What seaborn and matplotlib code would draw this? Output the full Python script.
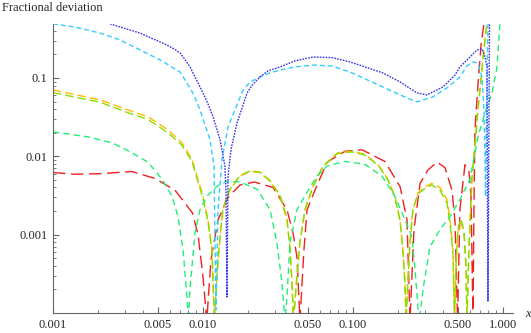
import numpy as np
import pandas as pd
import matplotlib
matplotlib.use("Agg")
import matplotlib.pyplot as plt
import seaborn as sns
from matplotlib.ticker import FixedLocator, NullFormatter

# curves (values below 1e-4 mark the zero crossings)
red_x = [0.001, 0.0014, 0.00206, 0.00336, 0.0048, 0.0065, 0.0085, 0.00927, 0.010, 0.0106,
         0.0113, 0.0126, 0.01468, 0.01766, 0.022, 0.0293, 0.0363, 0.0398, 0.0423, 0.0443,
         0.0471, 0.0494, 0.0558, 0.0671, 0.0885, 0.115, 0.163, 0.206, 0.229, 0.24,
         0.255, 0.28, 0.316, 0.363, 0.41, 0.457, 0.479, 0.498, 0.516, 0.558,
         0.593, 0.612, 0.631, 0.641, 0.65, 0.681, 0.714, 0.747]
red_y = [0.0062, 0.0059, 0.0060, 0.0064, 0.0052, 0.0037, 0.0019, 0.0010, 0.00029, 8e-5,
         0.00048, 0.00155, 0.0030, 0.0043, 0.0047, 0.0040, 0.00208, 0.00106, 0.00052, 8e-5,
         0.00064, 0.00208, 0.0037, 0.0084, 0.0116, 0.0121, 0.0086, 0.0041, 0.00155, 8e-5,
         0.00116, 0.0045, 0.0067, 0.0084, 0.0072, 0.0037, 0.00146, 8e-5, 0.00208, 0.0078,
         0.0064, 0.0031, 8e-5, 0.0028, 0.0217, 0.0814, 0.263, 0.5]

orange_x = [0.001, 0.00206, 0.00316, 0.0043, 0.00584, 0.00724, 0.00845, 0.00912, 0.010, 0.0108,
            0.0115, 0.01167, 0.0119, 0.0124, 0.013, 0.0136, 0.0151, 0.01766, 0.0206, 0.024,
            0.028, 0.0326, 0.0363, 0.038, 0.0392, 0.0401, 0.0423, 0.0443, 0.0479, 0.0541,
            0.063, 0.079, 0.0985, 0.12, 0.147, 0.171, 0.19, 0.206, 0.215, 0.222,
            0.226, 0.233, 0.24, 0.251, 0.271, 0.302, 0.336, 0.38, 0.424, 0.45,
            0.464, 0.475, 0.486, 0.5, 0.525, 0.55, 0.567, 0.575, 0.593, 0.621,
            0.65, 0.681, 0.714, 0.747, 0.782]
orange_y = [0.0703, 0.0525, 0.039, 0.0319, 0.0217, 0.0149, 0.0092, 0.0056, 0.0031, 0.00155,
            0.00064, 0.000245, 8e-5, 0.00029, 0.00094, 0.00208, 0.0037, 0.0056, 0.0064, 0.0062,
            0.0048, 0.0031, 0.00155, 0.00064, 0.000245, 8e-5, 0.00029, 0.00079, 0.00208, 0.0041,
            0.0075, 0.0111, 0.0116, 0.0106, 0.0078, 0.0051, 0.0031, 0.00155, 0.00064, 0.000245,
            8e-5, 0.00029, 0.00079, 0.00208, 0.0034, 0.0041, 0.0045, 0.0040, 0.0028, 0.00125,
            0.00059, 8e-5, 0.00036, 0.00109, 0.00146, 0.0010, 0.00036, 8e-5, 0.00064, 0.0051,
            0.0132, 0.039, 0.094, 0.228, 0.5]
ygreen_y = [0.065, 0.049, 0.036, 0.0295, 0.020, 0.0138, 0.0086, 0.0052, 0.0029, 0.00145,
            0.0006, 0.00023, 8e-5, 0.00031, 0.0010, 0.0022, 0.0038, 0.0057, 0.0065, 0.0063,
            0.0049, 0.0032, 0.0016, 0.00066, 0.00025, 8e-5, 0.0003, 0.00082, 0.0021, 0.0041,
            0.0074, 0.0109, 0.0114, 0.0104, 0.0077, 0.0050, 0.0030, 0.0015, 0.00062, 0.00024,
            8e-5, 0.0003, 0.0008, 0.0021, 0.0033, 0.0039, 0.0043, 0.0037, 0.0025, 0.0011,
            0.00055, 8e-5, 0.0004, 0.0012, 0.0016, 0.0011, 0.0004, 8e-5, 0.0007, 0.0055,
            0.014, 0.041, 0.10, 0.24, 0.5]

green_x = [0.001, 0.00171, 0.00247, 0.00336, 0.0043, 0.00533, 0.00621, 0.00681, 0.00736, 0.00782,
           0.008, 0.00818, 0.00885, 0.00955, 0.01064, 0.0124, 0.01445, 0.01766, 0.0229, 0.028,
           0.0311, 0.0336, 0.0352, 0.0363, 0.038, 0.0423, 0.0494, 0.0575, 0.0671, 0.0885,
           0.12, 0.156, 0.19, 0.222, 0.247, 0.259, 0.271, 0.277, 0.293, 0.326,
           0.38, 0.443, 0.516, 0.603, 0.681, 0.759, 0.845, 0.912, 0.955]
green_y = [0.0205, 0.0177, 0.0149, 0.0111, 0.0084, 0.0051, 0.0031, 0.0017, 0.00064, 0.000162,
           8e-5, 0.0002, 0.00106, 0.00208, 0.0031, 0.00415, 0.0048, 0.0047, 0.0038, 0.00208,
           0.00079, 0.000245, 8e-5, 0.000162, 0.00079, 0.00208, 0.00348, 0.0056, 0.0075, 0.0086,
           0.0079, 0.0056, 0.0031, 0.00155, 0.00094, 0.00036, 0.000121, 8e-5, 0.0002, 0.0007,
           0.00116, 0.0017, 0.0028, 0.0051, 0.0177, 0.0358, 0.0644, 0.138, 0.5]

cyan_x = [0.001, 0.0014, 0.00206, 0.0028, 0.0038, 0.00517, 0.00703, 0.00782, 0.0087, 0.00955,
          0.0103, 0.01114, 0.01184, 0.01202, 0.0122, 0.0126, 0.0134, 0.01468, 0.0185, 0.0206,
          0.024, 0.028, 0.0326, 0.041, 0.0541, 0.0724, 0.0955, 0.158, 0.206, 0.267,
          0.341, 0.424, 0.516, 0.575, 0.631, 0.681, 0.724, 0.747, 0.759, 0.765,
          0.776, 0.794]
cyan_y = [0.49, 0.446, 0.374, 0.305, 0.228, 0.170, 0.119, 0.0864, 0.0607, 0.039,
          0.0252, 0.0162, 0.0075, 0.00079, 0.00011, 0.00208, 0.0092, 0.0237, 0.0703, 0.089,
          0.103, 0.116, 0.126, 0.138, 0.146, 0.142, 0.119, 0.0768, 0.0607, 0.0495,
          0.0573, 0.075, 0.103, 0.142, 0.16, 0.155, 0.103, 0.039, 0.0092, 0.00305,
          0.029, 0.5]

blue_x = [0.0024, 0.0038, 0.00575, 0.0065, 0.00703, 0.00759, 0.0082, 0.00898, 0.010, 0.0108,
          0.01167, 0.013, 0.014, 0.01424, 0.01445, 0.01468, 0.01538, 0.01686, 0.0197, 0.0216,
          0.024, 0.0271, 0.0326, 0.041, 0.0541, 0.0724, 0.0955, 0.158, 0.206, 0.267,
          0.311, 0.398, 0.479, 0.516, 0.603, 0.671, 0.724, 0.759, 0.782, 0.794,
          0.813]
blue_y = [0.49, 0.374, 0.263, 0.231, 0.208, 0.172, 0.138, 0.097, 0.0644, 0.0467,
          0.0319, 0.0162, 0.0075, 0.00348, 0.00016, 0.0056, 0.0123, 0.0267, 0.0644, 0.084,
          0.103, 0.123, 0.138, 0.165, 0.185, 0.182, 0.16, 0.116, 0.089, 0.0644,
          0.0607, 0.0768, 0.109, 0.138, 0.185, 0.228, 0.235, 0.185, 0.138, 0.00014,
          0.5]

x_ticks = [0.001, 0.005, 0.01, 0.05, 0.1, 0.5, 1.0]
x_labels = ["0.001", "0.005", "0.010", "0.050", "0.100", "0.500", "1.000"]
y_ticks = [0.001, 0.01, 0.1]
y_labels = ["0.001", "0.01", "0.1"]

sns.set_style("ticks")
plt.rcParams["font.family"] = ["Liberation Serif", "DejaVu Serif"]
plt.rcParams["axes.edgecolor"] = "#666666"

fig = plt.figure(figsize=(5.31, 3.33), dpi=100)
ax = fig.add_axes([53 / 531, 1 - 313 / 333, (513 - 53) / 531, (313 - 24) / 333])

curves = [
    (red_x, red_y, "#ee2020", (0, (9, 4))),
    (orange_x, orange_y, "#ffbb00", (0, (6, 3))),
    (orange_x, ygreen_y, "#88dd00", (0, (6, 3))),
    (green_x, green_y, "#22ee77", (0, (4.5, 3))),
    (cyan_x, cyan_y, "#33ccff", (0, (3.5, 2.2))),
    (blue_x, blue_y, "#3333ee", (0, (1.2, 0.9))),
]
for xs, ys, col, ls in curves:
    df = pd.DataFrame({"x": xs, "y": ys})
    sns.lineplot(data=df, x="x", y="y", ax=ax, color=col, linewidth=1.0,
                 linestyle=ls, estimator=None, sort=False)

ax.set_xscale("log")
ax.set_yscale("log")
ax.set_xlim(0.001, 1.166)
ax.set_ylim(1e-4, 0.488)
ax.set_xlabel("")
ax.set_ylabel("")
sns.despine(ax=ax)

ax.xaxis.set_major_locator(FixedLocator(x_ticks))
ax.set_xticklabels(x_labels)
x_minor = [m * 10.0 ** e for e in (-3, -2, -1) for m in (2, 3, 4, 6, 7, 8, 9)]
ax.xaxis.set_minor_locator(FixedLocator(x_minor))
ax.xaxis.set_minor_formatter(NullFormatter())
ax.yaxis.set_major_locator(FixedLocator(y_ticks))
ax.set_yticklabels(y_labels)
y_minor = [m * 10.0 ** e for e in (-4, -3, -2, -1) for m in (2, 3, 4, 5, 6, 7, 8, 9)]
ax.yaxis.set_minor_locator(FixedLocator(y_minor))
ax.yaxis.set_minor_formatter(NullFormatter())
ax.tick_params(which="major", direction="in", length=4, width=0.8, color="#666666",
               labelsize=9, pad=4)
ax.tick_params(which="minor", direction="in", length=2.2, width=0.6, color="#666666")

fig.text(2 / 531, 1 - 8 / 333, "Fractional deviation", fontsize=9, ha="left", va="center")
fig.text(528 / 531, 1 - 314 / 333, "x", fontsize=9, style="italic", ha="center", va="center")

fig.savefig("out.png", dpi=100)
